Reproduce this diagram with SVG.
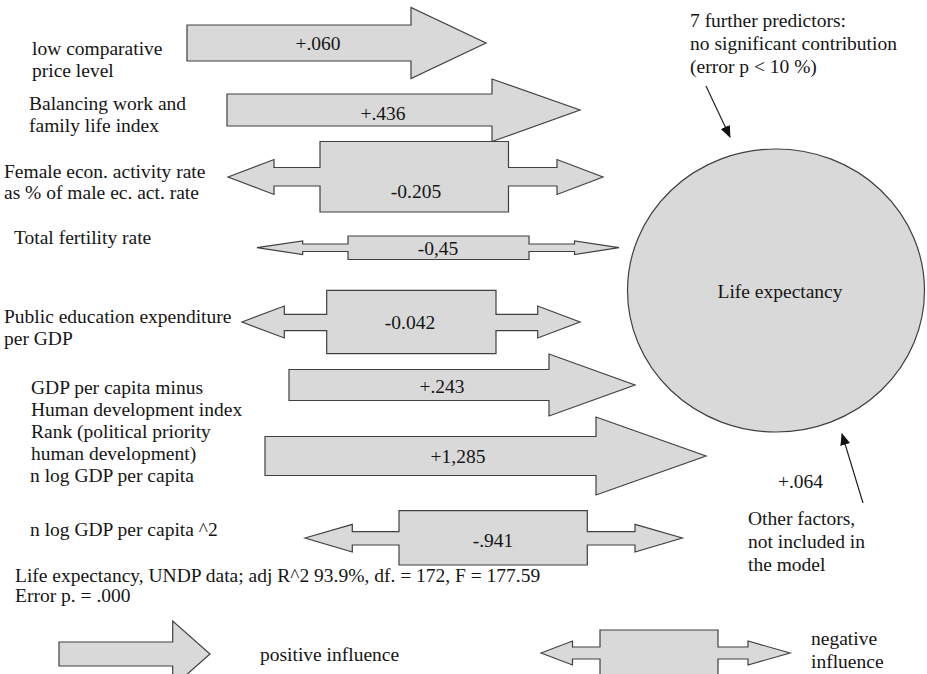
<svg xmlns="http://www.w3.org/2000/svg" width="927" height="674" viewBox="0 0 927 674" font-family="'Liberation Serif', 'DejaVu Serif', serif" font-size="19.5">
<defs>
<style>
text{font-family:"Liberation Serif","DejaVu Serif",serif;font-size:19.5px;fill:#151515}
.c{text-anchor:middle}
.sh{fill:#d9d9d9;stroke:#404040;stroke-width:1.2;stroke-linejoin:miter}
.ptr{stroke:#222;stroke-width:1.2;fill:none}
</style>
<marker id="ah" markerUnits="userSpaceOnUse" markerWidth="12" markerHeight="10" viewBox="0 0 12 10" refX="11" refY="5" orient="auto">
<path d="M0,0 L12,5 L0,10 Z" fill="#111"/>
</marker>
</defs>
<rect width="927" height="674" fill="#ffffff"/>

<g id="p1">
<polygon class="sh" points="187,25 411,25 411,7.5 486,43 411,78.5 411,61 187,61"/>
<text class="c" x="318" y="50">+.060</text>
<text x="32" y="55">low comparative</text>
<text x="32" y="77">price level</text>
</g>

<g id="p2">
<polygon class="sh" points="227,94 492,94 492,79 580,110 492,141.5 492,126 227,126"/>
<text class="c" x="383" y="120">+.436</text>
<text x="29" y="110">Balancing work and</text>
<text x="29" y="132">family life index</text>
</g>

<g id="p3">
<polygon class="sh" points="228,177 274,159.5 274,167.5 320,167.5 320,141.5 508.5,141.5 508.5,167.5 557,167.5 557,159.5 603,177 557,194.5 557,186 508.5,186 508.5,212 320,212 320,186 274,186 274,194.5"/>
<text class="c" x="416" y="198">-0.205</text>
<text x="4" y="178">Female econ. activity rate</text>
<text x="4" y="199">as % of male ec. act. rate</text>
</g>

<g id="p4">
<polygon class="sh" points="257,247.7 302.7,241 302.7,244 348,244 348,236 529,236 529,244 574.5,244 574.5,241 619,247.7 574.5,254.5 574.5,251.5 529,251.5 529,259.5 348,259.5 348,251.5 302.7,251.5 302.7,254.5"/>
<text class="c" x="438" y="255">-0,45</text>
<text x="14" y="244">Total fertility rate</text>
</g>

<g id="p5">
<polygon class="sh" points="242,322 284.3,306 284.3,314.3 326.7,314.3 326.7,290.3 496,290.3 496,314.3 537.7,314.3 537.7,306 580,322 537.7,338 537.7,330.7 496,330.7 496,353.7 326.7,353.7 326.7,330.7 284.3,330.7 284.3,338"/>
<text class="c" x="410" y="329">-0.042</text>
<text x="4" y="323">Public education expenditure</text>
<text x="4" y="345">per GDP</text>
</g>

<g id="p6">
<polygon class="sh" points="289,369.5 549,369.5 549,354 635,385 549,416 549,400.5 289,400.5"/>
<text class="c" x="442" y="393">+.243</text>
<text x="31" y="394">GDP per capita minus</text>
<text x="31" y="416">Human development index</text>
</g>

<g id="p7">
<polygon class="sh" points="265,436.5 596,436.5 596,417 706,456 596,495 596,475.5 265,475.5"/>
<text class="c" x="458" y="463">+1,285</text>
<text x="31" y="438">Rank (political priority</text>
<text x="31" y="460">human development)</text>
<text x="30" y="482">n log GDP per capita</text>
</g>

<g id="p8">
<polygon class="sh" points="305,538 352.3,524.3 352.3,531.7 399,531.7 399,510.7 587.3,510.7 587.3,531.7 635,531.7 635,524.3 682.3,538 635,552 635,545 587.3,545 587.3,565 399,565 399,545 352.3,545 352.3,552"/>
<text class="c" x="493" y="547">-.941</text>
<text x="30" y="536">n log GDP per capita ^2</text>
</g>

<g id="life-expectancy">
<ellipse class="sh" cx="776" cy="290.5" rx="148.5" ry="141.5"/>
<text class="c" x="780" y="298">Life expectancy</text>
</g>

<g id="further-predictors">
<text x="690" y="27">7 further predictors:</text>
<text x="690" y="50">no significant contribution</text>
<text x="690" y="73">(error p &lt; 10 %)</text>
</g>

<g id="other-factors">
<text x="778" y="488">+.064</text>
<text x="748" y="525">Other factors,</text>
<text x="748" y="548">not included in</text>
<text x="748" y="571">the model</text>
</g>

<g id="model-stats">
<text x="15" y="582">Life expectancy, UNDP data; adj R^2 93.9%, df. = 172, F = 177.59</text>
<text x="15" y="602">Error p. = .000</text>
</g>

<g id="legend-positive">
<polygon class="sh" points="59,642 172.7,642 172.7,621 210,654 172.7,687 172.7,666 59,666"/>
<text x="260" y="661">positive influence</text>
</g>

<g id="legend-negative">
<polygon class="sh" points="541,653 572.5,641 572.5,647 600,647 600,630 718,630 718,647 748,647 748,641 790,653 748,665 748,659 718,659 718,690 600,690 600,659 572.5,659 572.5,665"/>
<text x="811" y="645">negative</text>
<text x="811" y="668">influence</text>
</g>

<g id="connectors">
<line class="ptr" x1="706" y1="86" x2="730" y2="137" marker-end="url(#ah)"/>
<line class="ptr" x1="863" y1="503" x2="842" y2="434" marker-end="url(#ah)"/>
</g>
</svg>
